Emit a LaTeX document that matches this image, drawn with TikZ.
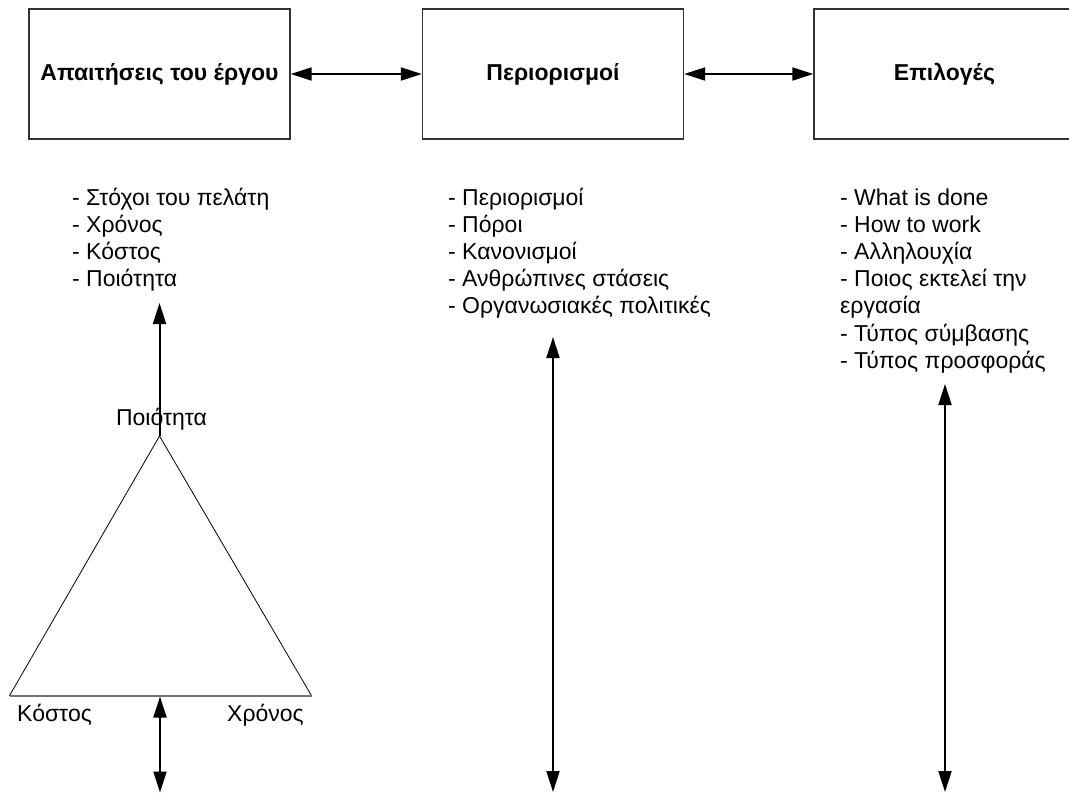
\documentclass[tikz,border=0pt]{standalone}
\usepackage{fontspec}
\setmainfont{Liberation Sans}
\usetikzlibrary{arrows.meta}
\begin{document}
\begin{tikzpicture}[x=1pt,y=-1pt,
  font=\fontsize{23}{27}\selectfont,
  stagebox/.style={draw=black!80,line width=1.4pt,minimum width=261pt,minimum height=130pt,inner sep=0pt,font=\fontsize{23}{27}\selectfont\bfseries},
  item/.style={anchor=base west,inner sep=0pt},
  lbl/.style={anchor=base,inner sep=0pt},
  link/.style={line width=2pt,{Triangle[length=21pt,width=13pt]}-{Triangle[length=21pt,width=13pt]}},
  uplink/.style={line width=2pt,-{Triangle[length=21pt,width=13pt]}},
  side/.style={line width=0.8pt,black},
  base line/.style={line width=1.6pt,black!55}]
\clip (0,0) rectangle (1069,793);

% the three stages
\node[stagebox] (req) at (159.5,74) {Απαιτήσεις του έργου};
\node[stagebox] (con) at (553,74) {Περιορισμοί};
\node[stagebox] (opt) at (944.5,74) {Επιλογές};
\draw[link] (req.east) -- (con.west);
\draw[link] (con.east) -- (opt.west);

% requirement list
\node[item] (r1) at (72,205) {- Στόχοι του πελάτη};
\node[item] (r2) at (72,232.2) {- Χρόνος};
\node[item] (r3) at (72,259.4) {- Κόστος};
\node[item] (r4) at (72,286.6) {- Ποιότητα};

% constraint list
\node[item] (c1) at (448,205) {- Περιορισμοί};
\node[item] (c2) at (448,232.2) {- Πόροι};
\node[item] (c3) at (448,259.4) {- Κανονισμοί};
\node[item] (c4) at (448,286.6) {- Ανθρώπινες στάσεις};
\node[item] (c5) at (448,313.8) {- Οργανωσιακές πολιτικές};

% option list
\node[item] (o1) at (840,205) {- What is done};
\node[item] (o2) at (840,232.2) {- How to work};
\node[item] (o3) at (840,259.4) {- Αλληλουχία};
\node[item] (o4) at (840,286.6) {- Ποιος εκτελεί την};
\node[item] (o5) at (840,313.8) {εργασία};
\node[item] (o6) at (840,341) {- Τύπος σύμβασης};
\node[item] (o7) at (840,368.2) {- Τύπος προσφοράς};

% project triangle
\coordinate (apex) at (159.5,436);
\coordinate (bl) at (9.5,695.7);
\coordinate (br) at (311.5,695.7);
\coordinate (bmid) at (160,696.5);
\draw[side] (bl) -- (apex) -- (br);
\draw[base line] (bl) -- (br);
\node[lbl] (quality) at (161.5,425.7) {Ποιότητα};
\node[item] (cost) at (17,721.7) {Κόστος};
\node[item] (time) at (227,721.7) {Χρόνος};

% vertical connectors
\coordinate (qtop) at (159.5,303);
\coordinate (lbot) at (160,792.5);
\coordinate (ctop) at (553,337);
\coordinate (cbot) at (553,792);
\coordinate (otop) at (945,384);
\coordinate (obot) at (945,792);
\draw[uplink] (apex) -- (qtop);
\draw[link] (bmid) -- (lbot);
\draw[link] (ctop) -- (cbot);
\draw[link] (otop) -- (obot);
\end{tikzpicture}
\end{document}
